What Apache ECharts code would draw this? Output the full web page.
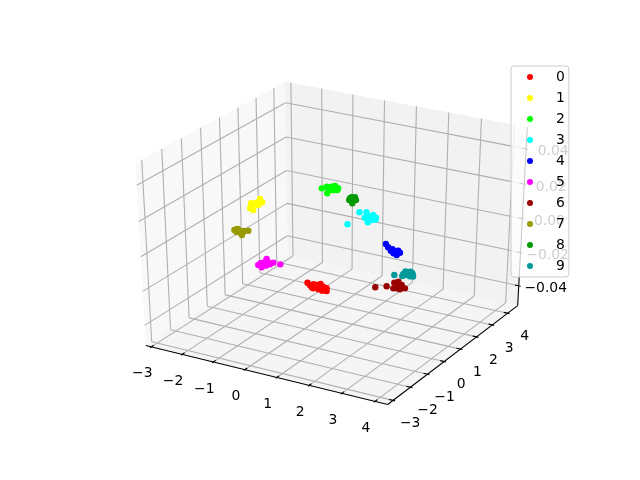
<!DOCTYPE html>
<html>
<head>
<meta charset="utf-8">
<style>html,body{margin:0;background:#fff}#chart{width:640px;height:480px}</style>
<script src="https://cdn.jsdelivr.net/npm/echarts@6/dist/echarts.min.js"></script>
</head>
<body>
<div id="chart"></div>
<script>
var xLim = [-3.03, 4.23], yLim = [-3.15, 4.5], zLim = [-0.05, 0.05];
var xTicks = [-3,-2,-1,0,1,2,3,4], yTicks = [-3,-2,-1,0,1,2,3,4], zTicks = [-0.04,-0.02,0,0.02,0.04];
var names = ['0','1','2','3','4','5','6','7','8','9'];
var colors = ['#ff0000','#ffff00','#00ff00','#00ffff','#0000ff','#ff00ff','#990000','#999900','#009900','#009999'];
// x,y of each digit cluster, z is 0 for all of them
var points0 = [[1.57,-2.59],[1.70,-2.69],[1.82,-2.81],[1.90,-2.77],[1.86,-2.60],[1.91,-2.49],[2.04,-2.76],[2.12,-2.71],[2.19,-2.67],[2.28,-2.83],[2.06,-2.62],[1.89,-2.85],[2.04,-2.84],[1.76,-2.60],[1.92,-2.58],[2.17,-2.87]];
var points1 = [[-2.52,1.42],[-2.61,1.67],[-2.47,1.45],[-2.62,1.82],[-2.70,1.78],[-2.59,1.90],[-2.66,2.21],[-2.47,2.01],[-2.38,1.35],[-2.46,1.76]];
var points2 = [[-1.58,3.88],[-1.25,3.61],[-1.42,3.98],[-1.40,4.15],[-1.35,4.25],[-1.13,3.99],[-1.23,3.93],[-1.31,3.88],[-1.52,4.07],[-1.18,4.13],[-1.19,3.96]];
var points3 = [[0.42,1.74],[0.26,2.74],[0.43,2.84],[0.59,2.44],[0.83,2.17],[0.68,2.59],[0.86,2.60],[0.84,2.38],[0.73,2.38],[0.69,2.75],[0.76,2.52],[0.92,2.45]];
var points4 = [[2.03,0.97],[2.20,0.78],[2.38,0.59],[2.53,0.46],[2.66,0.40],[2.66,0.59],[2.53,0.60],[2.37,0.71],[2.55,0.70],[2.60,0.52]];
var points5 = [[-0.17,-2.18],[-0.18,-2.04],[-0.14,-1.96],[-0.01,-2.27],[-0.20,-1.68],[-0.07,-1.84],[0.07,-1.97],[0.03,-2.11],[0.09,-1.82],[0.31,-1.83]];
var points6 = [[3.25,-1.94],[3.47,-1.72],[3.53,-1.40],[3.59,-1.28],[3.69,-1.76],[3.76,-1.71],[3.81,-1.60],[3.95,-1.60],[3.77,-1.44],[3.66,-1.51],[3.87,-1.73]];
var points7 = [[-2.04,-0.27],[-2.01,-0.19],[-1.88,-0.24],[-1.67,-0.49],[-1.74,-0.33],[-1.77,-0.20],[-1.68,-0.12],[-1.87,-0.35],[-1.91,-0.37],[-2.00,-0.15]];
var points8 = [[-0.45,3.45],[-0.50,3.68],[-0.42,3.73],[-0.29,3.55],[-0.25,3.26],[-0.35,3.51],[-0.50,3.59]];
var points9 = [[3.28,-0.92],[3.45,-0.73],[3.48,-0.60],[3.53,-0.49],[3.66,-0.60],[3.59,-0.72],[3.50,-0.78],[3.60,-0.53],[3.49,-0.87],[3.67,-0.78],[3.41,-0.53],[3.75,-0.75]];
var clusters = [points0,points1,points2,points3,points4,points5,points6,points7,points8,points9];

// same camera as mplot3d: elev 30, azim -60, dist 10
var dist = 10, el = 30*Math.PI/180, az = -60*Math.PI/180;
function dot(a,b){return a[0]*b[0]+a[1]*b[1]+a[2]*b[2];}
function cross(a,b){return [a[1]*b[2]-a[2]*b[1],a[2]*b[0]-a[0]*b[2],a[0]*b[1]-a[1]*b[0]];}
function norm(a){var l=Math.sqrt(dot(a,a));return [a[0]/l,a[1]/l,a[2]/l];}
var E = [0.5+dist*Math.cos(el)*Math.cos(az),0.5+dist*Math.cos(el)*Math.sin(az),0.5+dist*Math.sin(el)];
var N = norm([E[0]-0.5,E[1]-0.5,E[2]-0.5]);
var U = norm(cross([0,0,1],N));
var V = cross(N,U);
function project(x,y,z){
  var p=[(x-xLim[0])/(xLim[1]-xLim[0])-E[0],(y-yLim[0])/(yLim[1]-yLim[0])-E[1],(z-zLim[0])/(zLim[1]-zLim[0])-E[2]];
  var w=-dot(N,p);
  return [dot(U,p)/w,dot(V,p)/w];
}
// pane box is a bit bigger than the limits
var dx=(xLim[1]-xLim[0])/12, dy=(yLim[1]-yLim[0])/12, dz=(zLim[1]-zLim[0])/12;
var x0=xLim[0]-dx/4,x1=xLim[1]+dx/4,y0=yLim[0]-dy/4,y1=yLim[1]+dy/4,z0=zLim[0]-dz/4,z1=zLim[1]+dz/4;

var panes=[
  {c:'rgba(242,242,242,0.5)',p:[[x0,y0,z0],[x0,y1,z0],[x0,y1,z1],[x0,y0,z1]]},
  {c:'rgba(230,230,230,0.5)',p:[[x0,y1,z0],[x1,y1,z0],[x1,y1,z1],[x0,y1,z1]]},
  {c:'rgba(236,236,236,0.5)',p:[[x0,y0,z0],[x1,y0,z0],[x1,y1,z0],[x0,y1,z0]]}
];
var lines=[];
function add(a,b,c){lines.push({a:a,b:b,c:c});}
xTicks.forEach(function(t){
  add([t,y0,z0],[t,y1,z0],'#b0b0b0'); add([t,y1,z0],[t,y1,z1],'#b0b0b0');
});
yTicks.forEach(function(t){
  add([x1,t,z0],[x0,t,z0],'#b0b0b0'); add([x0,t,z0],[x0,t,z1],'#b0b0b0');
});
zTicks.forEach(function(t){
  add([x0,y0,t],[x0,y1,t],'#b0b0b0'); add([x0,y1,t],[x1,y1,t],'#b0b0b0');
});
add([x0,y0,z0],[x1,y0,z0],'#000'); add([x1,y0,z0],[x1,y1,z0],'#000'); add([x1,y1,z0],[x1,y1,z1],'#000');
xTicks.forEach(function(t){add([t,y0-0.1*dy,z0],[t,y0+0.2*dy,z0],'#000');});
yTicks.forEach(function(t){add([x1+0.1*dx,t,z0],[x1-0.2*dx,t,z0],'#000');});
zTicks.forEach(function(t){add([x1+0.1*dx,y1,t],[x1-0.2*dx,y1,t],'#000');});

function fmt(v){return v<0?'\u2212'+(-v):''+v;}
function fmtZ(v){return (v<0?'\u2212':'')+Math.abs(v).toFixed(2);}
var labels=[];
xTicks.forEach(function(t){labels.push({t:fmt(t),p:[t,y0,z0],o:[-9,27]});});
yTicks.forEach(function(t){labels.push({t:fmt(t),p:[x1,t,z0],o:[17,23]});});
zTicks.forEach(function(t){labels.push({t:fmtZ(t),p:[x1,y1,t],o:[27,3]});});

var series=[{
  type:'custom',silent:true,z:1,coordinateSystem:'cartesian2d',data:panes.map(function(d,i){return [i];}),
  renderItem:function(params,api){
    var d=panes[params.dataIndex];
    return {type:'polygon',shape:{points:d.p.map(function(q){return api.coord(project(q[0],q[1],q[2]));})},style:{fill:d.c}};
  }
},{
  type:'custom',silent:true,z:2,coordinateSystem:'cartesian2d',data:lines.map(function(d,i){return [i];}),
  renderItem:function(params,api){
    var d=lines[params.dataIndex],a=api.coord(project(d.a[0],d.a[1],d.a[2])),b=api.coord(project(d.b[0],d.b[1],d.b[2]));
    return {type:'line',shape:{x1:a[0],y1:a[1],x2:b[0],y2:b[1]},style:{stroke:d.c,lineWidth:1.1}};
  }
},{
  type:'custom',silent:true,z:2,coordinateSystem:'cartesian2d',data:labels.map(function(d,i){return [i];}),
  renderItem:function(params,api){
    var d=labels[params.dataIndex],a=api.coord(project(d.p[0],d.p[1],d.p[2]));
    return {type:'text',x:a[0]+d.o[0],y:a[1]+d.o[1],style:{text:d.t,fill:'#000',font:'13.9px "DejaVu Sans"',textAlign:'center',textVerticalAlign:'middle'}};
  }
}];
names.forEach(function(n,i){
  series.push({name:n,type:'scatter',z:3,symbolSize:6.4,clip:false,silent:true,itemStyle:{color:colors[i],opacity:1},
    data:clusters[i].map(function(q){return project(q[0],q[1],0);})});
});

var chart=echarts.init(document.getElementById('chart'),null,{renderer:'canvas'});
chart.setOption({
  animation:false,
  grid:{left:80,top:57.6,width:496,height:369.6},
  xAxis:{type:'value',min:-0.095,max:0.09,show:false},
  yAxis:{type:'value',min:-0.095,max:0.09,show:false},
  legend:{orient:'vertical',left:511,top:66,data:names,icon:'circle',itemWidth:6,itemHeight:6,itemGap:7,
    padding:[4,4,4,16],backgroundColor:'rgba(255,255,255,0.8)',borderColor:'#cccccc',borderWidth:1,borderRadius:3,
    selectedMode:false,textStyle:{color:'#000',fontFamily:'DejaVu Sans',fontSize:13.9,padding:[0,0,0,18],lineHeight:14}},
  series:series
});
</script>
</body>
</html>
